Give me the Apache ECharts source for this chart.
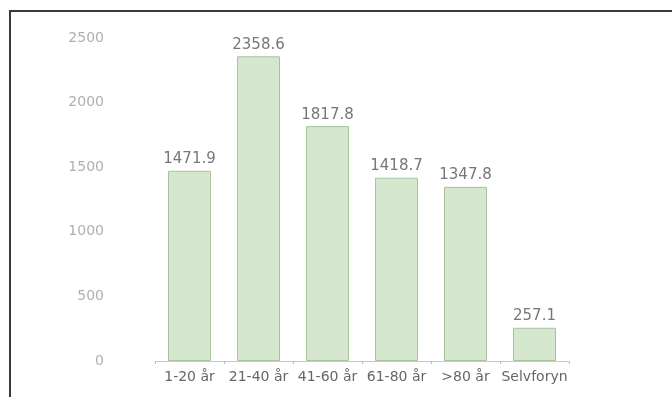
<!DOCTYPE html>
<html>
<head>
<meta charset="utf-8">
<script src="https://cdn.jsdelivr.net/npm/echarts@6/dist/echarts.min.js"></script>
<style>
  html, body { margin: 0; padding: 0; background: #fff; }
  #chart { width: 672px; height: 397px; }
</style>
</head>
<body>
<div id="chart"></div>
<script>
const categories = ['1-20 år', '21-40 år', '41-60 år', '61-80 år', '>80 år', 'Selvforyn'];
const values = [1471.9, 2358.6, 1817.8, 1418.7, 1347.8, 257.1];
const yTicks = [0, 500, 1000, 1500, 2000, 2500];

const chart = echarts.init(document.getElementById('chart'));

chart.setOption({
  animation: false,
  grid: { left: 155, top: 38, width: 414, height: 323 },
  graphic: [
    {
      type: 'rect',
      shape: { x: 10, y: 11, width: 700, height: 420 },
      style: { fill: 'none', stroke: '#3a3a3a', lineWidth: 2 },
      silent: true
    }
  ],
  xAxis: {
    type: 'category',
    data: categories,
    axisLine: { lineStyle: { color: '#c8c8c8', width: 1 } },
    axisTick: { show: true, length: 3, lineStyle: { color: '#bbb' } },
    axisLabel: {
      interval: 0,
      color: '#666',
      fontSize: 14,
      fontFamily: 'DejaVu Sans',
      margin: 9
    }
  },
  yAxis: {
    type: 'value',
    min: yTicks[0],
    max: yTicks[yTicks.length - 1],
    interval: 500,
    axisLine: { show: false },
    axisTick: { show: false },
    splitLine: { show: false },
    axisLabel: {
      color: '#b0b0b0',
      fontSize: 14,
      fontFamily: 'DejaVu Sans',
      margin: 51,
      formatter: v => String(v)
    }
  },
  series: [
    {
      type: 'bar',
      data: values,
      barWidth: 43,
      itemStyle: {
        color: '#d6e7cf',
        borderColor: '#a8c39d',
        borderWidth: 1
      },
      label: {
        show: true,
        position: 'top',
        distance: 4,
        color: '#777',
        fontSize: 15,
        fontFamily: 'DejaVu Sans',
        formatter: p => p.value.toFixed(1)
      }
    }
  ]
});
</script>
</body>
</html>
